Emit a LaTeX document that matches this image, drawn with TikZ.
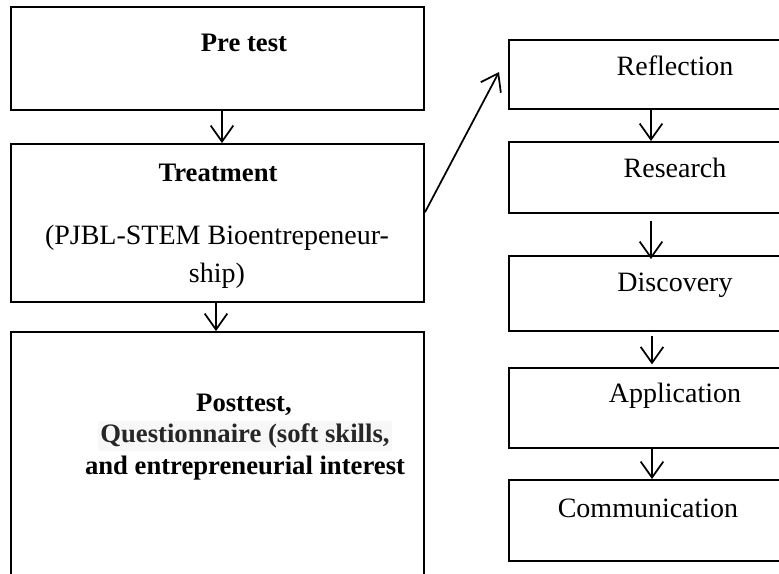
\documentclass[tikz,border=0pt]{standalone}
\usepackage{fontspec}
\setmainfont{Liberation Serif}
\usetikzlibrary{arrows.meta}
\tikzset{
  box/.style={draw, line width=1.4pt, rectangle, inner sep=0pt},
  lbl/.style={inner sep=0pt, font=\fontsize{21}{28.5}\selectfont, anchor=center},
  blbl/.style={inner sep=0pt, font=\fontsize{20}{31}\selectfont\bfseries, anchor=center},
  arr/.style={line width=1.3pt, -{Straight Barb[length=12pt, width=17pt, line width=1.3pt]}},
}
\begin{document}
\begin{tikzpicture}[x=0.75pt, y=-0.75pt]
\useasboundingbox (0,0) rectangle (779,574);
\clip (0,0) rectangle (779,574);
% left column boxes
\node[box, minimum width=413*0.75pt, minimum height=103*0.75pt] (pre) at (217.5,58.5) {};
\node[box, minimum width=413*0.75pt, minimum height=158*0.75pt] (treat) at (217.5,223) {};
\node[box, minimum width=413*0.75pt, minimum height=300*0.75pt] (post) at (217.5,482) {};
% right column boxes
\node[box, minimum width=300*0.75pt, minimum height=69*0.75pt] (r1) at (659,74.5) {};
\node[box, minimum width=300*0.75pt, minimum height=71*0.75pt] (r2) at (659,177.5) {};
\node[box, minimum width=300*0.75pt, minimum height=75*0.75pt] (r3) at (659,293.5) {};
\node[box, minimum width=300*0.75pt, minimum height=80*0.75pt] (r4) at (659,408) {};
\node[box, minimum width=300*0.75pt, minimum height=81*0.75pt] (r5) at (659,520.5) {};
\coordinate (dend) at (499,72);
% texts
\node[blbl] (tpre) at (244,43) {Pre test};
\node[blbl] (ttreat) at (218,173) {Treatment};
\node[lbl, align=center] (tpjbl) at (217,257) {(PJBL-STEM Bioentrepeneur-\\ship)};
\node[blbl] (tpost1) at (244,405) {Posttest,};
\node[blbl, fill=gray!6, text=black!85, inner xsep=2pt, inner ysep=2pt] (tpost2) at (245,436) {Questionnaire (soft skills,};
\node[blbl] (tpost3) at (245,468) {and entrepreneurial interest};
\node[lbl] (tr1) at (675,66) {Reflection};
\node[lbl] (tr2) at (675,168) {Research};
\node[lbl] (tr3) at (675,285) {Discovery};
\node[lbl] (tr4) at (675,396) {Application};
\node[lbl] (tr5) at (648,508) {Communication};
% connectors
\draw[arr] (pre.south -| 222,0) -- (treat.north -| 222,0);
\draw[arr] (treat.south -| 216,0) -- (post.north -| 216,0);
\draw[arr] ([yshift=8pt]treat.east) -- (dend);
\draw[arr] (r1.south -| 651,0) -- (r2.north -| 651,0);
\draw[arr, shorten <=5pt, shorten >=-3pt] (r2.south -| 651,0) -- (r3.north -| 651,0);
\draw[arr, shorten <=3pt, shorten >=2pt] (r3.south -| 652,0) -- (r4.north -| 652,0);
\draw[arr] (r4.south -| 652,0) -- (r5.north -| 652,0);
\end{tikzpicture}
\end{document}
